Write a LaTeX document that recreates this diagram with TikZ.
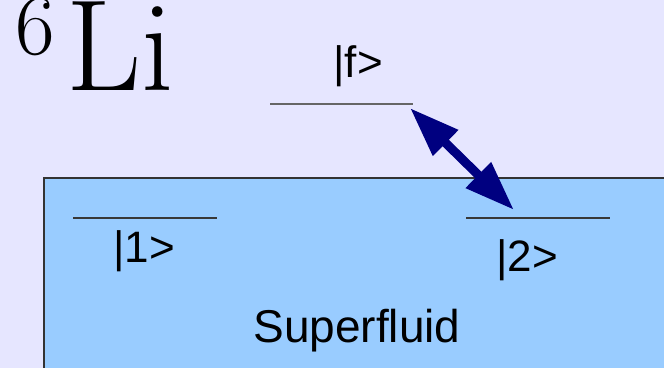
\documentclass[tikz,border=0pt]{standalone}
\usepackage{fontspec}
\setsansfont{Liberation Sans}
\usetikzlibrary{arrows.meta}
\definecolor{lavender}{HTML}{E6E6FF}
\definecolor{fluidblue}{HTML}{99CCFF}
\definecolor{navyblue}{HTML}{000080}

\begin{document}
\begin{tikzpicture}[
        x=0.5pt, y=-0.5pt,
        level/.style={draw=black!78, line width=0.6pt},
        ket/.style={font=\sffamily\fontsize{22}{26}\selectfont, anchor=base, inner sep=0pt},
        transition/.style={{Triangle[length=25pt, width=17pt]}-{Triangle[length=25pt, width=17pt]}, line width=4.5pt, draw=navyblue}
    ]

    % Background and frame
    \fill[lavender] (0,0) rectangle (664,368);
    \useasboundingbox (0,0) rectangle (664,368);
    \clip (0,0) rectangle (664,368);

    % Superfluid region
    \draw[fill=fluidblue, draw=black!80, line width=0.6pt] (44,178) rectangle (700,400);
    \node[ket, font=\sffamily\fontsize{23}{27}\selectfont] (sf) at (357,343) {Superfluid};

    % Isotope
    \node[anchor=base west, inner sep=0pt, font=\fontsize{43}{46}\selectfont] (six) at (15,55) {6};
    \node[anchor=base west, inner sep=0pt, font=\fontsize{65}{70}\selectfont] (li) at (66,91) {Li};

    % Levels
    \draw[level, draw=black!60] (270,104) -- (413,104);
    \draw[level] (73,218) -- (217,218);
    \draw[level] (466,218) -- (610,218);

    \node[ket] (kf) at (358,78) {|f>};
    \node[ket] (k1) at (144,263) {|1>};
    \node[ket] (k2) at (527,272) {|2>};

    % Transition
    \coordinate (ftip) at (410,108);
    \coordinate (twotip) at (514,210);
    \draw[transition] (ftip) -- (twotip);

\end{tikzpicture}
\end{document}
